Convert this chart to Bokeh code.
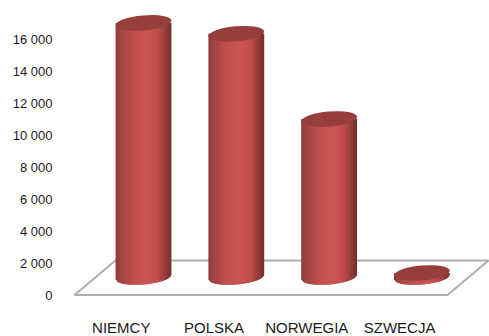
import numpy as np
from bokeh.embed import file_html
from bokeh.models import FixedTicker, Range1d
from bokeh.plotting import figure
from bokeh.resources import INLINE

countries = ["NIEMCY", "POLSKA", "NORWEGIA", "SZWECJA"]
values = [15880, 15200, 9870, 250]
y_ticks = [0, 2000, 4000, 6000, 8000, 10000, 12000, 14000, 16000]
y_labels = ["0", "2 000", "4 000", "6 000", "8 000", "10 000", "12 000", "14 000", "16 000"]

WIDTH, HEIGHT = 489, 336
FRAME_LEFT, FRAME_BOTTOM = 55, 310
ZERO_PX, PX_PER_UNIT = 294.5, 0.016
FIRST_PX, STEP_PX = 143.0, 92.8

# Scale helpers: sizes in pixels expressed in data units of each axis
def dx(px):
    return px / STEP_PX

def dy(px):
    return px / PX_PER_UNIT

x_range = Range1d(dx(FRAME_LEFT - FIRST_PX), dx(WIDTH - FIRST_PX))
y_range = Range1d(-dy(FRAME_BOTTOM - ZERO_PX), dy(ZERO_PX))

p = figure(frame_width=WIDTH - FRAME_LEFT, frame_height=FRAME_BOTTOM,
           x_range=x_range, y_range=y_range,
           output_backend="svg", toolbar_location=None,
           min_border_left=FRAME_LEFT, min_border_right=0, min_border_top=0,
           min_border_bottom=HEIGHT - FRAME_BOTTOM)
p.outline_line_color = None
p.grid.visible = False
p.background_fill_color = "white"

# Value axis
p.yaxis.ticker = FixedTicker(ticks=y_ticks)
p.yaxis.major_label_overrides = dict(zip(y_ticks, y_labels))
p.yaxis.axis_line_color = None
p.yaxis.major_tick_line_color = None
p.yaxis.major_tick_out = 0
p.yaxis.major_tick_in = 0
p.yaxis.minor_tick_line_color = None
p.yaxis.minor_tick_out = 0
p.yaxis.major_label_text_font = "Liberation Sans"
p.yaxis.major_label_text_font_size = "13px"
p.yaxis.major_label_text_color = "#1a1a1a"
p.yaxis.major_label_standoff = 3

# Category axis, labels sit to the left of the cylinders because of the 3D view
label_shift = -0.24
tick_pos = [i + label_shift for i in range(len(countries))]
p.xaxis.ticker = FixedTicker(ticks=tick_pos)
p.xaxis.major_label_overrides = dict(zip(tick_pos, countries))
p.xaxis.axis_line_color = None
p.xaxis.major_tick_line_color = None
p.xaxis.major_tick_out = 0
p.xaxis.major_tick_in = 0
p.xaxis.minor_tick_line_color = None
p.xaxis.minor_tick_out = 0
p.xaxis.major_label_text_font = "Liberation Sans"
p.xaxis.major_label_text_font_size = "15px"
p.xaxis.major_label_text_color = "#1a1a1a"
p.xaxis.major_label_text_line_height = 1.0
p.xaxis.major_label_standoff = 8

# Perspective floor
floor_x = [dx(74 - FIRST_PX), dx(447 - FIRST_PX), dx(488 - FIRST_PX), dx(115 - FIRST_PX)]
floor_y = [0, 0, dy(34.5), dy(34.5)]
p.patch(floor_x, floor_y, fill_color="white", line_color="#aeaeae", line_width=2)

# Cylinders
RX, RY, TILT = 28.0, 7.5, np.deg2rad(5)
BASE_LIFT = dy(18)
STRIPS = 40
OVERLAP = 1.0
shade_pos = [0.0, 0.08, 0.3, 0.55, 0.75, 0.92, 1.0]
shade_rgb = np.array([[140, 60, 58], [160, 68, 66], [190, 78, 76], [205, 86, 84],
                      [192, 78, 76], [140, 58, 56], [115, 48, 46]])

c, s = np.cos(TILT), np.sin(TILT)
half_w = np.sqrt((RX * c) ** 2 + (RY * s) ** 2)

def lower_edge(off):
    """Lower boundary (pixels, y up) of the tilted base ellipse at a horizontal offset."""
    qa = s ** 2 / RX ** 2 + c ** 2 / RY ** 2
    qb = 2 * off * s * c * (1 / RX ** 2 - 1 / RY ** 2)
    qc = off ** 2 * (c ** 2 / RX ** 2 + s ** 2 / RY ** 2) - 1
    disc = np.maximum(qb ** 2 - 4 * qa * qc, 0)
    return (-qb - np.sqrt(disc)) / (2 * qa)

edges = np.linspace(-half_w, half_w, STRIPS + 1)
xs, ys, colors = [], [], []
for i, val in enumerate(values):
    for k in range(STRIPS):
        # each strip runs slightly under its right neighbour so no seam shows through
        l, r = edges[k], min(edges[k + 1] + OVERLAP, half_w)
        top = val + BASE_LIFT
        xs.append([i + dx(l), i + dx(r), i + dx(r), i + dx(l)])
        ys.append([top, top, BASE_LIFT + dy(lower_edge(r)), BASE_LIFT + dy(lower_edge(l))])
        t = (k + 0.5) / STRIPS
        rgb = [int(np.interp(t, shade_pos, shade_rgb[:, j])) for j in range(3)]
        colors.append("#%02x%02x%02x" % tuple(rgb))

p.patches(xs, ys, fill_color=colors, line_color=None)
p.ellipse(x=list(range(len(values))), y=[v + BASE_LIFT for v in values],
          width=2 * RX, height=2 * RY, angle=TILT,
          width_units="screen", height_units="screen",
          fill_color="#963e3c", line_color=None)

open("out.html", "w").write(file_html(p, INLINE))
